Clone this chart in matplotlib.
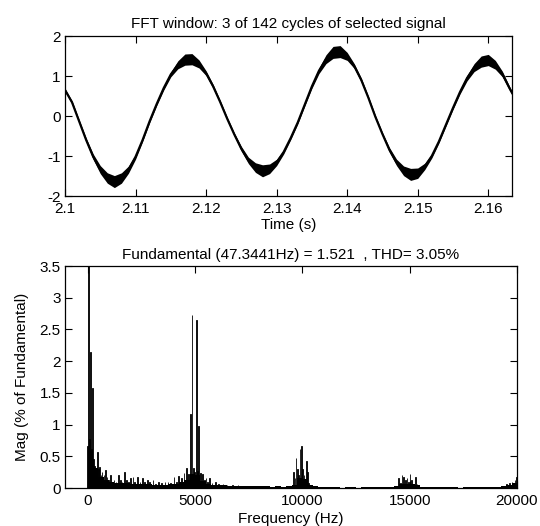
import numpy as np
import matplotlib
matplotlib.use("Agg")
import matplotlib.pyplot as plt

# ============================================================
# DATA
# ============================================================

TOP_TITLE = "FFT window: 3 of 142 cycles of selected signal"
BOTTOM_TITLE = "Fundamental (47.3441Hz) = 1.521  , THD= 3.05%"

# time signal: centre line and half width of the ripple band,
# read every 1 ms plus the last visible point
T_S = list(np.round(np.arange(2.100, 2.1635, 0.001), 4)) + [2.1634]
SIG_CENTER = [
    0.65, 0.34, -0.13, -0.60, -1.02, -1.34, -1.55, -1.64, -1.55, -1.34,
    -1.02, -0.60, -0.13, 0.30, 0.70, 1.04, 1.28, 1.41, 1.42, 1.30,
    1.07, 0.74, 0.35, -0.07, -0.46, -0.82, -1.11, -1.29, -1.37, -1.32,
    -1.16, -0.90, -0.55, -0.16, 0.29, 0.74, 1.13, 1.42, 1.59, 1.61,
    1.49, 1.25, 0.90, 0.46, -0.02, -0.45, -0.85, -1.16, -1.37, -1.46,
    -1.43, -1.26, -1.00, -0.64, -0.22, 0.20, 0.60, 0.95, 1.21, 1.36,
    1.40, 1.28, 1.05, 0.70, 0.57,
]
SIG_RIPPLE = [
    0.04, 0.04, 0.04, 0.05, 0.07, 0.10, 0.13, 0.15, 0.13, 0.09,
    0.06, 0.04, 0.04, 0.04, 0.05, 0.06, 0.10, 0.14, 0.14, 0.10,
    0.06, 0.05, 0.04, 0.04, 0.04, 0.06, 0.08, 0.12, 0.15, 0.12,
    0.08, 0.05, 0.04, 0.04, 0.04, 0.05, 0.07, 0.11, 0.15, 0.15,
    0.10, 0.06, 0.05, 0.04, 0.04, 0.04, 0.06, 0.08, 0.12, 0.15,
    0.13, 0.08, 0.05, 0.04, 0.04, 0.04, 0.05, 0.07, 0.10, 0.14,
    0.14, 0.11, 0.07, 0.05, 0.04,
]
TOP_XTICKS = [2.10, 2.11, 2.12, 2.13, 2.14, 2.15, 2.16]
TOP_XLABELS = ["2.1", "2.11", "2.12", "2.13", "2.14", "2.15", "2.16"]
TOP_YTICKS = [-2, -1, 0, 1, 2]
TOP_YLABELS = ["-2", "-1", "0", "1", "2"]

# spectrum: distinct spikes (Hz, % of fundamental)
SPIKE_HZ = [
    0, 47.3, 79, 142, 190, 237, 280, 330, 380, 430, 473, 520, 570, 620, 680,
    760, 840, 900, 980, 1060, 1150, 1230, 1330, 1430, 1520, 1610, 1710, 1800,
    1900, 2000, 2110, 2200, 2340, 2450, 2560, 2660, 2800, 2900, 3050, 3150,
    3300, 3450, 3600, 3750, 3870, 4020, 4150, 4250, 4380, 4490, 4600, 4700,
    4780, 4860, 4920, 4980, 5060, 5120, 5180, 5250, 5360, 5450, 5510, 5600,
    5680, 5800, 5950, 6100, 6300, 6500, 6750, 7000,
    9600, 9660, 9710, 9780, 9830, 9890, 9950, 10020, 10080, 10190, 10250, 10300,
    14480, 14560, 14640, 14720, 14800, 14870, 14950, 15020, 15100, 15270, 15350,
    19500, 19650, 19760, 19900, 19980,
]
SPIKE_MAG = [
    0.67, 100.0, 0.78, 2.15, 0.62, 1.58, 0.45, 0.35, 0.30, 0.25, 0.57, 0.30, 0.33, 0.20, 0.25,
    0.20, 0.28, 0.18, 0.12, 0.20, 0.10, 0.13, 0.09, 0.20, 0.12, 0.10, 0.26, 0.12,
    0.10, 0.16, 0.17, 0.10, 0.18, 0.10, 0.15, 0.09, 0.13, 0.09, 0.12, 0.07,
    0.10, 0.08, 0.09, 0.10, 0.08, 0.17, 0.10, 0.19, 0.15, 0.24, 0.31, 0.22,
    1.17, 2.72, 0.32, 0.25, 2.65, 0.27, 0.98, 0.24, 0.22, 0.12, 0.16, 0.10,
    0.15, 0.08, 0.09, 0.06, 0.07, 0.05, 0.05, 0.05,
    0.25, 0.15, 0.48, 0.30, 0.20, 0.62, 0.67, 0.30, 0.20, 0.43, 0.25, 0.08,
    0.15, 0.08, 0.20, 0.18, 0.12, 0.16, 0.10, 0.22, 0.13, 0.18, 0.06,
    0.06, 0.08, 0.10, 0.12, 0.18,
]

# spectrum: low level floor in 250 Hz bands (start of band, level)
FLOOR_BAND_HZ = 250
FLOOR_START_HZ = list(range(0, 20000, FLOOR_BAND_HZ))
FLOOR_MAG = [
    0.58, 0.32, 0.17, 0.12, 0.10, 0.08, 0.08, 0.08, 0.07, 0.07,
    0.06, 0.06, 0.05, 0.05, 0.05, 0.06, 0.07, 0.09, 0.13, 0.22,
    0.20, 0.11, 0.07, 0.05, 0.045, 0.04, 0.035, 0.03, 0.03, 0.025,
    0.03, 0.025, 0.025, 0.025, 0.02, 0.025, 0.02, 0.025, 0.05, 0.16,
    0.14, 0.04, 0.025, 0.02, 0.02, 0.015, 0.02, 0.0, 0.015, 0.015,
    0.0, 0.015, 0.015, 0.01, 0.015, 0.015, 0.02, 0.03, 0.06, 0.07,
    0.07, 0.04, 0.02, 0.02, 0.015, 0.015, 0.015, 0.015, 0.015, 0.0,
    0.015, 0.015, 0.015, 0.015, 0.02, 0.02, 0.02, 0.03, 0.05, 0.08,
]
BOT_XTICKS = [0, 5000, 10000, 15000, 20000]
BOT_YTICKS = [0, 0.5, 1, 1.5, 2, 2.5, 3, 3.5]
BOT_YLABELS = ["0", "0.5", "1", "1.5", "2", "2.5", "3", "3.5"]

# ============================================================
# PLOT
# ============================================================

FS = 11  # text size, close to the MATLAB screen font

plt.rcParams["font.family"] = ["Liberation Sans", "DejaVu Sans"]
plt.rcParams["font.size"] = FS
plt.rcParams["axes.unicode_minus"] = False

fig = plt.figure(figsize=(5.40, 5.26), dpi=100)
W, H = 540.0, 526.0

def style_axes(ax):
    ax.tick_params(direction="in", top=True, right=True, length=5, width=0.8,
                   labelsize=FS)
    ax.tick_params(axis="x", pad=4)
    ax.tick_params(axis="y", pad=3)
    for sp in ax.spines.values():
        sp.set_linewidth(0.9)

# --- top: time signal ---
ax1 = fig.add_axes([65 / W, 1 - 196 / H, (512 - 65) / W, 160 / H])
t = np.array(T_S)
c = np.array(SIG_CENTER)
r = np.array(SIG_RIPPLE)
ax1.fill_between(t, c - r, c + r, color="k", lw=0)
ax1.plot(t, c, color="k", lw=1.6)
ax1.set_xlim(2.1, 2.16337)
ax1.set_ylim(-2, 2)
ax1.set_xticks(TOP_XTICKS)
ax1.set_xticklabels(TOP_XLABELS)
ax1.set_yticks(TOP_YTICKS)
ax1.set_yticklabels(TOP_YLABELS)
ax1.set_title(TOP_TITLE, fontsize=FS, pad=6)
ax1.set_xlabel("Time (s)", labelpad=2)
style_axes(ax1)

# --- bottom: spectrum ---
ax2 = fig.add_axes([65 / W, 1 - 488 / H, (517 - 65) / W, 222 / H])
ax2.bar(FLOOR_START_HZ, FLOOR_MAG, width=FLOOR_BAND_HZ, align="edge",
        color="k", lw=0)
ax2.bar(SPIKE_HZ, SPIKE_MAG, width=30, color="k", edgecolor="k", lw=0.6)
ax2.set_xlim(-1050, 20000)
ax2.set_ylim(0, 3.5)
ax2.set_xticks(BOT_XTICKS)
ax2.set_yticks(BOT_YTICKS)
ax2.set_yticklabels(BOT_YLABELS)
ax2.set_title(BOTTOM_TITLE, fontsize=FS, pad=5)
ax2.set_xlabel("Frequency (Hz)", labelpad=3)
ax2.set_ylabel("Mag (% of Fundamental)", labelpad=8)
style_axes(ax2)

fig.savefig("out.png", dpi=100)
